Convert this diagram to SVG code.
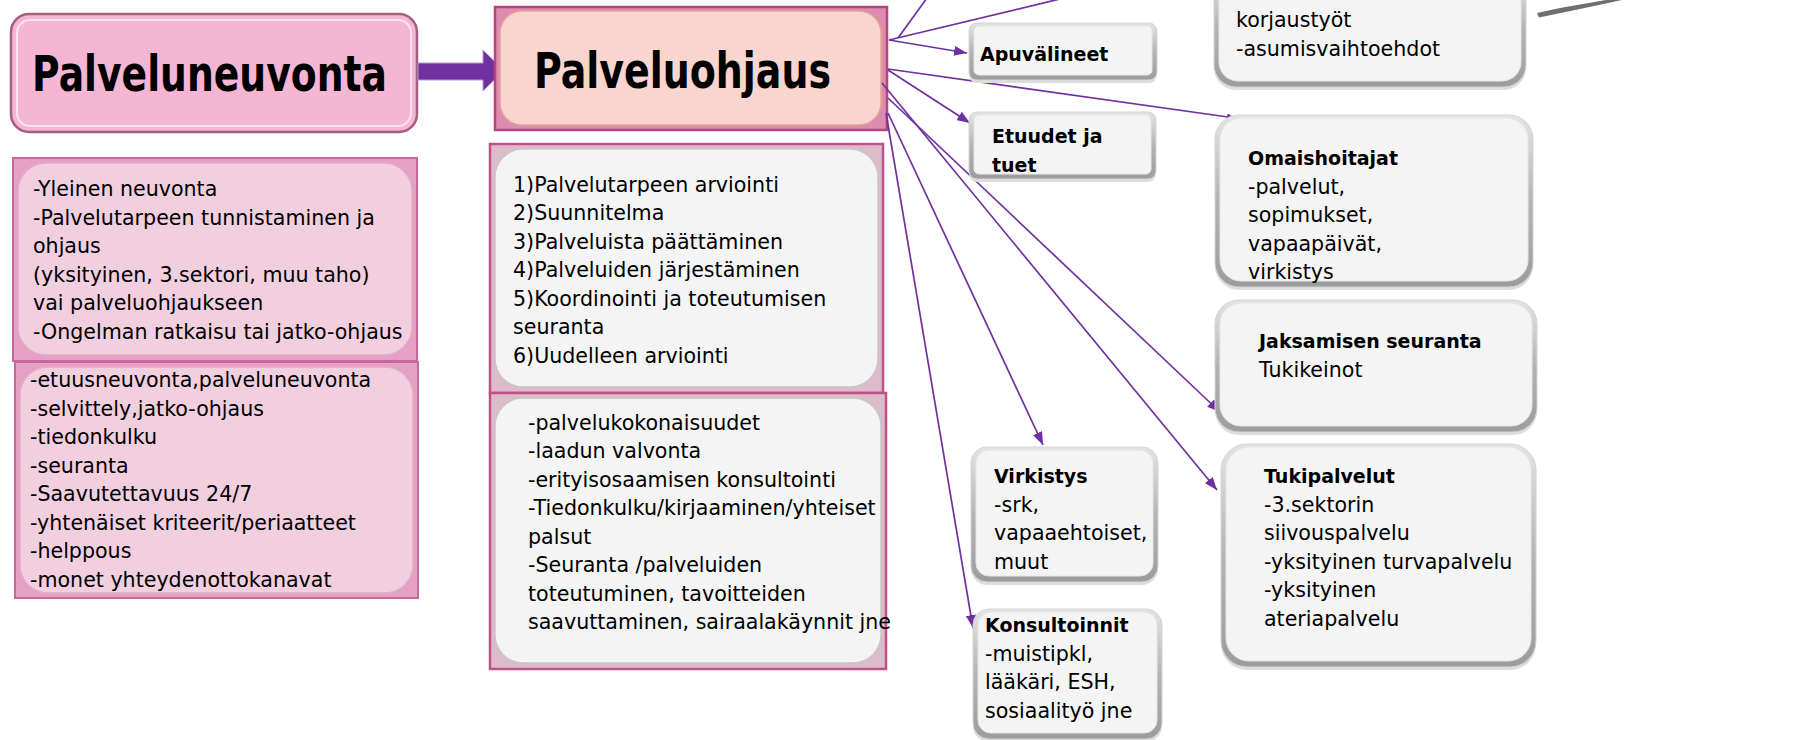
<svg xmlns="http://www.w3.org/2000/svg" width="1793" height="740" viewBox="0 0 1793 740">
<defs>
<style>
.t{font-family:"DejaVu Sans","Liberation Sans",sans-serif;font-size:20.6px;fill:#000}
.b{font-weight:bold;font-size:19px}
.title{font-family:"DejaVu Sans","Liberation Sans",sans-serif;font-weight:bold;font-size:50px;fill:#000}
.gsh{fill:#dedede}
.gout{fill:url(#gEdge);stroke:#d4d4d4;stroke-width:1}
.gin{fill:#f4f4f4;stroke:#e6e6e6;stroke-width:1}
.pfr{fill:#e6a0c3;stroke:#c8679a;stroke-width:2}
.pin{fill:#f2cfdf;stroke:#e3acc8;stroke-width:1.5}
.mfr{fill:#dcbccb;stroke:#c0508a;stroke-width:2.5}
.min{fill:#f4f4f4;stroke:#c6c6c6;stroke-width:1.5}
.con{stroke:#7030a0;stroke-width:1.7;fill:none}
</style>
<linearGradient id="gEdge" x1="0" y1="0" x2="0" y2="1">
<stop offset="0" stop-color="#e4e4e4"/>
<stop offset="0.5" stop-color="#b4b4b4"/>
<stop offset="1" stop-color="#9c9c9c"/>
</linearGradient>
<marker id="ah" markerUnits="userSpaceOnUse" markerWidth="14" markerHeight="10" refX="13" refY="5" orient="auto">
<path d="M0,0 L13,5 L0,10 z" fill="#7030a0"/>
</marker>
<marker id="ahs" markerUnits="userSpaceOnUse" markerWidth="9" markerHeight="7" refX="8" refY="3.5" orient="auto">
<path d="M0,0 L8,3.5 L0,7 z" fill="#7030a0"/>
</marker>
</defs>
<rect width="1793" height="740" fill="#ffffff"/>

<g id="palveluneuvonta">
<rect x="11" y="14" width="406" height="118" rx="18" fill="#f4b6d2" stroke="#a55d84" stroke-width="2.5"/>
<rect x="17" y="20" width="394" height="106" rx="13" fill="none" stroke="#fbe3ef" stroke-width="2"/>
<text class="title" x="32" y="91" textLength="355" lengthAdjust="spacingAndGlyphs">Palveluneuvonta</text>
</g>

<g id="main-arrow">
<polygon points="418,63 483,63 483,50 504,70.5 483,91 483,80 418,80" fill="#7030a0" stroke="#b69ad6" stroke-width="1"/>
</g>

<g id="palveluohjaus">
<rect x="495" y="7" width="392" height="123" fill="#dd8bae" stroke="#b8457e" stroke-width="2.5"/>
<rect x="500" y="11" width="381" height="114" rx="22" fill="#f9d5cf" stroke="#e3a597" stroke-width="1.5"/>
<text class="title" x="534" y="88" textLength="297" lengthAdjust="spacingAndGlyphs">Palveluohjaus</text>
</g>

<g id="neuvonta-1">
<rect class="pfr" x="13" y="158" width="404" height="203"/>
<rect class="pin" x="18" y="163" width="394" height="192" rx="28"/>
<text class="t" x="33" y="196">-Yleinen neuvonta</text>
<text class="t" x="33" y="224.5">-Palvelutarpeen tunnistaminen ja</text>
<text class="t" x="33" y="253">ohjaus</text>
<text class="t" x="33" y="281.5">(yksityinen, 3.sektori, muu taho)</text>
<text class="t" x="33" y="310">vai palveluohjaukseen</text>
<text class="t" x="33" y="338.5">-Ongelman ratkaisu tai jatko-ohjaus</text>
</g>

<g id="neuvonta-2">
<rect class="pfr" x="15" y="362" width="403" height="236"/>
<rect class="pin" x="20" y="367" width="393" height="226" rx="28"/>
<text class="t" x="30" y="387">-etuusneuvonta,palveluneuvonta</text>
<text class="t" x="30" y="415.5">-selvittely,jatko-ohjaus</text>
<text class="t" x="30" y="444">-tiedonkulku</text>
<text class="t" x="30" y="472.5">-seuranta</text>
<text class="t" x="30" y="501">-Saavutettavuus 24/7</text>
<text class="t" x="30" y="529.5">-yhtenäiset kriteerit/periaatteet</text>
<text class="t" x="30" y="558">-helppous</text>
<text class="t" x="30" y="586.5">-monet yhteydenottokanavat</text>
</g>

<g id="ohjaus-vaiheet">
<rect class="mfr" x="490" y="144" width="393" height="249"/>
<rect class="min" x="495" y="149" width="383" height="238" rx="28"/>
<text class="t" x="513" y="191.5">1)Palvelutarpeen arviointi</text>
<text class="t" x="513" y="220">2)Suunnitelma</text>
<text class="t" x="513" y="248.5">3)Palveluista päättäminen</text>
<text class="t" x="513" y="277">4)Palveluiden järjestäminen</text>
<text class="t" x="513" y="305.5">5)Koordinointi ja toteutumisen</text>
<text class="t" x="513" y="334">seuranta</text>
<text class="t" x="513" y="362.5">6)Uudelleen arviointi</text>
</g>

<g id="ohjaus-tehtavat">
<rect class="mfr" x="490" y="393" width="396" height="276"/>
<rect class="min" x="495" y="398" width="386" height="265" rx="28"/>
<text class="t" x="528" y="429.5">-palvelukokonaisuudet</text>
<text class="t" x="528" y="458">-laadun valvonta</text>
<text class="t" x="528" y="486.5">-erityisosaamisen konsultointi</text>
<text class="t" x="528" y="515">-Tiedonkulku/kirjaaminen/yhteiset</text>
<text class="t" x="528" y="543.5">palsut</text>
<text class="t" x="528" y="572">-Seuranta /palveluiden</text>
<text class="t" x="528" y="600.5">toteutuminen, tavoitteiden</text>
<text class="t" x="528" y="629">saavuttaminen, sairaalakäynnit jne</text>
</g>

<g id="connectors">
<line class="con" x1="898" y1="38" x2="927" y2="-2"/>
<line class="con" x1="889" y1="40" x2="1064" y2="-2"/>
<line class="con" x1="889" y1="40" x2="967" y2="53" marker-end="url(#ah)"/>
<line class="con" x1="888" y1="69" x2="1235" y2="118" marker-end="url(#ahs)"/>
<line class="con" x1="888" y1="70" x2="970" y2="123" marker-end="url(#ah)"/>
<line class="con" x1="882" y1="83" x2="1217" y2="490" marker-end="url(#ah)"/>
<line class="con" x1="888" y1="98" x2="1220" y2="412" marker-end="url(#ah)"/>
<line class="con" x1="888" y1="113" x2="1043" y2="445" marker-end="url(#ah)"/>
<line class="con" x1="886" y1="113" x2="973" y2="628" marker-end="url(#ah)"/>
</g>

<g id="apuvalineet">
<rect class="gsh" x="969" y="26" width="188" height="57" rx="8"/>
<rect class="gout" x="969" y="23" width="188" height="57" rx="8"/>
<rect class="gin" x="974" y="26" width="178" height="49" rx="5"/>
<text class="t b" x="980" y="61">Apuvälineet</text>
</g>

<g id="etuudet">
<rect class="gsh" x="969" y="115" width="187" height="67" rx="8"/>
<rect class="gout" x="969" y="112" width="187" height="67" rx="8"/>
<rect class="gin" x="974" y="115" width="177" height="59" rx="5"/>
<text class="t b" x="992" y="143">Etuudet ja</text>
<text class="t b" x="992" y="172">tuet</text>
</g>

<g id="virkistys">
<rect class="gsh" x="971" y="450" width="187" height="135" rx="16"/>
<rect class="gout" x="971" y="447" width="187" height="135" rx="16"/>
<rect class="gin" x="976" y="450" width="177" height="126" rx="13"/>
<text class="t b" x="994" y="483">Virkistys</text>
<text class="t" x="994" y="511.5">-srk,</text>
<text class="t" x="994" y="540">vapaaehtoiset,</text>
<text class="t" x="994" y="568.5">muut</text>
</g>

<g id="konsultoinnit">
<rect class="gsh" x="973" y="612" width="189" height="130" rx="16"/>
<rect class="gout" x="973" y="609" width="189" height="130" rx="16"/>
<rect class="gin" x="978" y="612" width="179" height="121" rx="13"/>
<text class="t b" x="985" y="632">Konsultoinnit</text>
<text class="t" x="985" y="660.5">-muistipkl,</text>
<text class="t" x="985" y="689">lääkäri, ESH,</text>
<text class="t" x="985" y="717.5">sosiaalityö jne</text>
</g>

<g id="asuminen">
<rect class="gsh" x="1214" y="-30" width="312" height="120" rx="22"/>
<rect class="gout" x="1214" y="-30" width="312" height="117" rx="22"/>
<rect class="gin" x="1219" y="-27" width="302" height="108" rx="19"/>
<text class="t" x="1236" y="27">korjaustyöt</text>
<text class="t" x="1236" y="55.5">-asumisvaihtoehdot</text>
</g>

<g id="omaishoitajat">
<rect class="gsh" x="1215" y="118" width="318" height="172" rx="24"/>
<rect class="gout" x="1215" y="115" width="318" height="172" rx="24"/>
<rect class="gin" x="1220" y="118" width="308" height="163" rx="21"/>
<text class="t b" x="1248" y="165">Omaishoitajat</text>
<text class="t" x="1248" y="193.5">-palvelut,</text>
<text class="t" x="1248" y="222">sopimukset,</text>
<text class="t" x="1248" y="250.5">vapaapäivät,</text>
<text class="t" x="1248" y="279">virkistys</text>
</g>

<g id="jaksaminen">
<rect class="gsh" x="1215" y="303" width="322" height="132" rx="24"/>
<rect class="gout" x="1215" y="300" width="322" height="132" rx="24"/>
<rect class="gin" x="1220" y="303" width="312" height="123" rx="21"/>
<text class="t b" x="1259" y="348">Jaksamisen seuranta</text>
<text class="t" x="1259" y="377">Tukikeinot</text>
</g>

<g id="tukipalvelut">
<rect class="gsh" x="1221" y="447" width="315" height="223" rx="26"/>
<rect class="gout" x="1221" y="444" width="315" height="223" rx="26"/>
<rect class="gin" x="1226" y="447" width="305" height="214" rx="23"/>
<text class="t b" x="1264" y="483">Tukipalvelut</text>
<text class="t" x="1264" y="511.5">-3.sektorin</text>
<text class="t" x="1264" y="540">siivouspalvelu</text>
<text class="t" x="1264" y="568.5">-yksityinen turvapalvelu</text>
<text class="t" x="1264" y="597">-yksityinen</text>
<text class="t" x="1264" y="625.5">ateriapalvelu</text>
</g>

<g id="gray-stroke">
<polygon points="1537,13 1539,17.5 1580,9 1622,0 1606,0 1560,8" fill="#6e6e6e"/>
</g>
</svg>
